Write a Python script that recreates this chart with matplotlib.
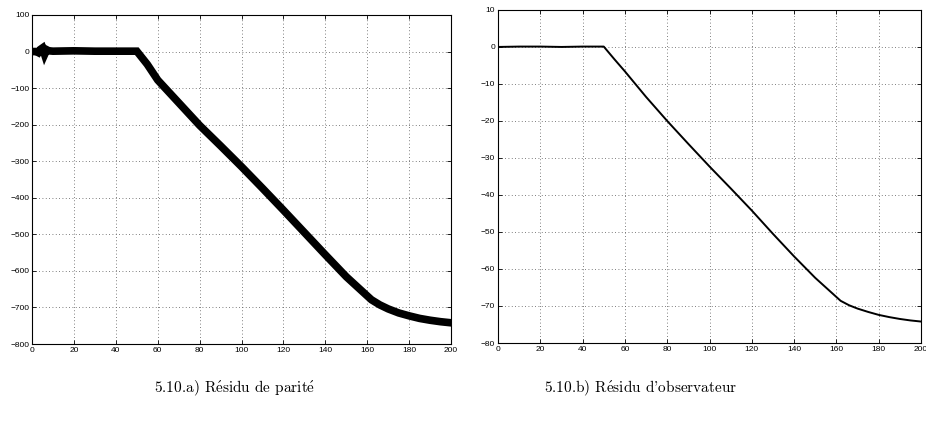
import matplotlib
matplotlib.use("Agg")
import matplotlib.pyplot as plt

# parity residual (thick noisy band)
t_par = [0, 2, 3, 4, 5, 6, 7, 8, 10, 20, 30, 40, 50, 55, 60, 70, 80, 90, 100,
         110, 120, 130, 140, 150, 162, 166, 170, 175, 180, 185, 190, 195, 200]
r_par = [0, 0, -3, 6, 10, -8, 5, 2, 1, 2, 1, 1, 1, -35, -78, -140, -202, -258, -315,
         -374, -434, -495, -556, -616, -679, -693, -704, -715, -723, -730, -735, -739, -742]

# observer residual
t_obs = [0, 10, 20, 30, 40, 50, 55, 60, 70, 80, 90, 100, 110, 120, 130, 140,
         150, 162, 166, 170, 175, 180, 185, 190, 195, 200]
r_obs = [0, 0.1, 0.1, 0.0, 0.1, 0.1, -3.3, -6.6, -13.5, -20.0, -26.2, -32.3, -38.2,
         -44.2, -50.5, -56.6, -62.4, -68.6, -69.8, -70.7, -71.6, -72.4, -73.0, -73.5, -73.9, -74.2]

plt.rcParams['font.family'] = ['Liberation Sans', 'DejaVu Sans']
plt.rcParams['axes.unicode_minus'] = True
plt.rcParams['mathtext.fontset'] = 'cm'

fig = plt.figure(figsize=(9.26, 4.32), dpi=100)
ax1 = fig.add_axes([0.0346, 0.2037, 0.4525, 0.7616])
ax2 = fig.add_axes([0.5378, 0.2060, 0.4568, 0.7710])

ax1.plot(t_par, r_par, color='black', lw=5.5, solid_joinstyle='miter')
ax2.plot(t_obs, r_obs, color='black', lw=1.4)

for ax, yl, yt in [(ax1, (-800, 100), range(-800, 101, 100)),
                   (ax2, (-80, 10), range(-80, 11, 10))]:
    ax.set_xlim(0, 200)
    ax.set_ylim(*yl)
    ax.set_xticks(range(0, 201, 20))
    ax.set_yticks(list(yt))
    ax.grid(True, color='#555555', linestyle=(0, (1, 3)), linewidth=0.6)
    ax.tick_params(direction='in', top=True, right=True, labelsize=6,
                   length=3, width=0.6, pad=2)
    for s in ax.spines.values():
        s.set_linewidth(0.8)

cap_font = ['cmr10', 'DejaVu Serif']
e_acc = r"$\mathrm{\acute{e}}$"
fig.text(0.253, 0.102, "5.10.a) R" + e_acc + "sidu de parit" + e_acc,
         ha='center', va='center', fontsize=11, family=cap_font)
fig.text(0.692, 0.102, "5.10.b) R" + e_acc + "sidu d'observateur",
         ha='center', va='center', fontsize=11, family=cap_font)

fig.savefig("out.png", dpi=100)
